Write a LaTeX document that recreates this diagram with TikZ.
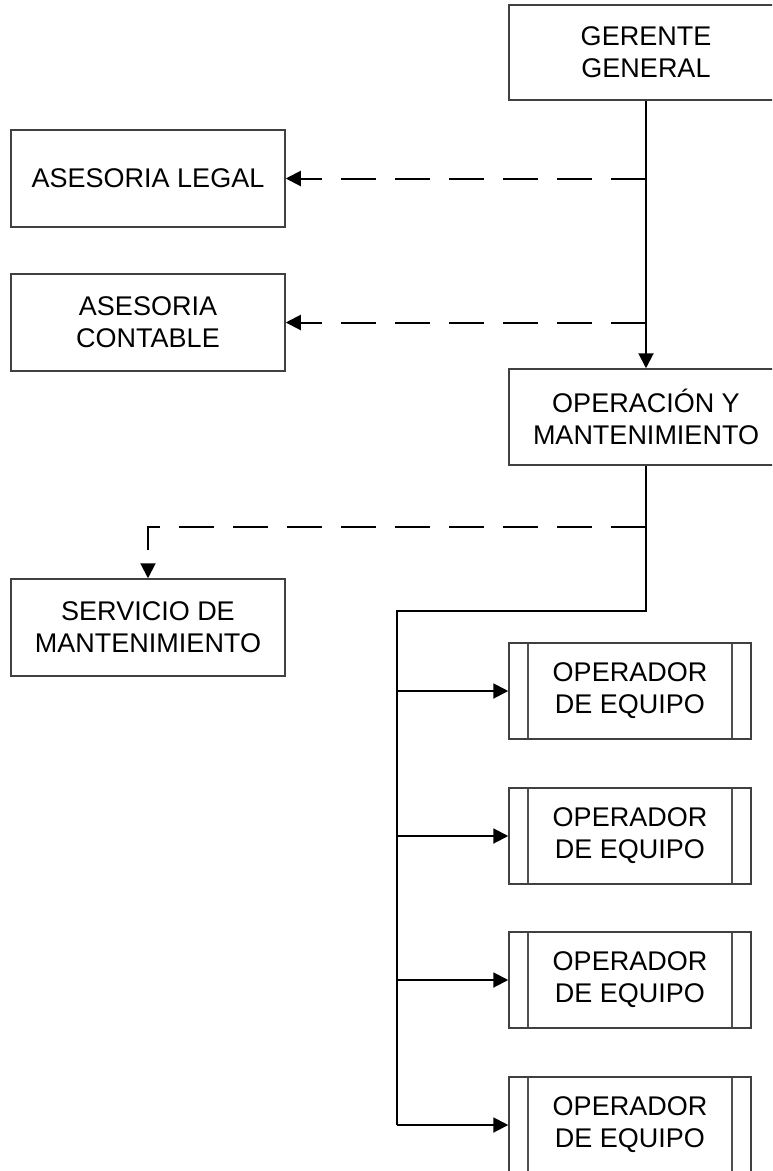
\documentclass[tikz,border=0pt]{standalone}
\usepackage{fontspec}
\setmainfont{Liberation Sans}
\usetikzlibrary{arrows.meta}
\definecolor{boxgray}{HTML}{404040}
\definecolor{innergray}{HTML}{505050}
\tikzset{
  orgbox/.style={draw=boxgray, line width=1.5pt, fill=white, minimum width=274pt,
    minimum height=96pt, align=center, inner sep=0pt,
    font=\fontsize{27}{32}\selectfont},
  opbox/.style={orgbox, minimum width=242pt,
    path picture={
      \draw[innergray, line width=1.3pt]
        ([xshift=19pt]path picture bounding box.north west) --
        ([xshift=19pt]path picture bounding box.south west);
      \draw[innergray, line width=1.3pt]
        ([xshift=-19pt]path picture bounding box.north east) --
        ([xshift=-19pt]path picture bounding box.south east);
    }},
  link/.style={draw=black, line width=2pt},
  tip/.style={-{Triangle[length=15pt,width=15pt]}},
  arr/.style={link, tip},
  dashlink/.style={link, dash pattern=on 35pt off 19pt, tip},
}
\begin{document}
\begin{tikzpicture}[x=1pt,y=-1pt]
\useasboundingbox (0,0) rectangle (772,1171);
\clip (0,0) rectangle (772,1171);
\fill[white] (0,0) rectangle (772,1171);

\node[orgbox, minimum height=95pt] (gerente) at (646,52.5) {GERENTE\\GENERAL};
\node[orgbox, minimum height=97pt] (legal) at (148,178.5) {ASESORIA LEGAL};
\node[orgbox, minimum height=97pt] (contable) at (148,322.5) {ASESORIA\\CONTABLE};
\node[orgbox] (operacion) at (646,417) {OPERACIÓN Y\\MANTENIMIENTO};
\node[orgbox, minimum height=97pt] (servicio) at (148,627.5) {SERVICIO DE\\MANTENIMIENTO};
\node[opbox] (op1) at (630,691) {OPERADOR\\DE EQUIPO};
\node[opbox] (op2) at (630,836) {OPERADOR\\DE EQUIPO};
\node[opbox] (op3) at (630,980) {OPERADOR\\DE EQUIPO};
\node[opbox] (op4) at (630,1125) {OPERADOR\\DE EQUIPO};

\coordinate (sj) at (646,527);
\coordinate (sk) at (148,527);
\coordinate (t1) at (646,611);
\coordinate (t2) at (397,611);

% main line
\draw[arr] (gerente.south) -- (operacion.north);
\draw[dashlink] (gerente.south |- legal.east) -- (legal.east);
\draw[dashlink] (gerente.south |- contable.east) -- (contable.east);

% servicio
\draw[dashlink] (sj) -- (sk) -- (servicio.north);

% trunk to operators
\draw[link] (operacion.south) -- (t1) -- (t2) -- (t2 |- op4.west);
\draw[arr] (t2 |- op1.west) -- (op1.west);
\draw[arr] (t2 |- op2.west) -- (op2.west);
\draw[arr] (t2 |- op3.west) -- (op3.west);
\draw[arr] (t2 |- op4.west) -- (op4.west);
\end{tikzpicture}
\end{document}
